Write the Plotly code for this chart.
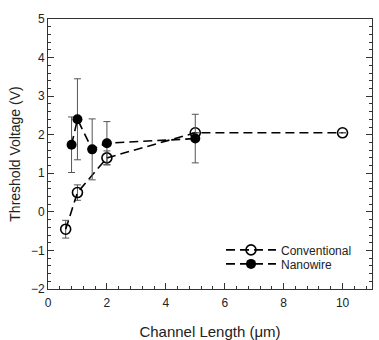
import plotly.graph_objects as go

# Conventional devices
conv_x = [0.6, 1.0, 2.0, 5.0, 10.0]
conv_y = [-0.45, 0.50, 1.40, 2.05, 2.05]
conv_err = [0.23, 0.20, 0.18, 0.0, 0.0]

# Nanowire devices
nw_x = [0.8, 1.0, 1.5, 2.0, 5.0]
nw_y = [1.74, 2.40, 1.62, 1.78, 1.90]
nw_err = [0.72, 1.05, 0.79, 0.56, 0.63]

x_ticks = [0, 2, 4, 6, 8, 10]
y_ticks = [-2, -1, 0, 1, 2, 3, 4, 5]

FONT = "Liberation Sans, Arial, sans-serif"
err_style = dict(type="data", visible=True, color="#555555", thickness=1, width=3.5)

fig = go.Figure()
fig.add_trace(go.Scatter(
    x=conv_x, y=conv_y, name="Conventional", mode="lines+markers",
    line=dict(color="black", width=1.6, dash="9px,5px"),
    marker=dict(symbol="circle-open", size=10, color="black", line=dict(width=1.6)),
    error_y=dict(array=conv_err, **err_style),
    legend="legend",
))
fig.add_trace(go.Scatter(
    x=nw_x, y=nw_y, name="Nanowire", mode="lines+markers",
    line=dict(color="black", width=1.6, dash="9px,5px"),
    marker=dict(symbol="circle", size=10, color="black"),
    error_y=dict(array=nw_err, **err_style),
    legend="legend2",
))

axis_common = dict(
    showline=True, linecolor="#333333", linewidth=1, showgrid=False, zeroline=False,
    ticks="inside", ticklen=6, tickcolor="#333333", tickwidth=1, automargin=False,
    tickfont=dict(family=FONT, size=12, color="#222222"),
)
fig.update_xaxes(
    range=[0, 11], tickvals=x_ticks, mirror=True, ticklabelstandoff=3,
    minor=dict(ticks="inside", ticklen=3, tickcolor="#333333", dtick=0.4, tick0=0),
    title=dict(text="Channel Length (\u03bcm)", font=dict(family=FONT, size=15, color="#222222"), standoff=20),
    **axis_common,
)
fig.update_yaxes(
    range=[-2, 5], tickvals=y_ticks, mirror="ticks",
    minor=dict(ticks="inside", ticklen=3, tickcolor="#333333", dtick=0.2, tick0=0),
    title=dict(text="Threshold Voltage (V)", font=dict(family=FONT, size=14, color="#222222"), standoff=7),
    **axis_common,
)

leg_common = dict(xanchor="left", yanchor="middle", font=dict(family=FONT, size=12, color="#222222"),
                  bgcolor="rgba(0,0,0,0)", borderwidth=0, itemwidth=50)
fig.update_layout(
    width=379, height=340,
    margin=dict(l=48, r=7, t=19, b=51),
    paper_bgcolor="white", plot_bgcolor="white",
    showlegend=True,
    legend=dict(x=0.534, y=0.145, **leg_common),
    legend2=dict(x=0.534, y=0.093, **leg_common),
)

fig.write_html("out.html")
